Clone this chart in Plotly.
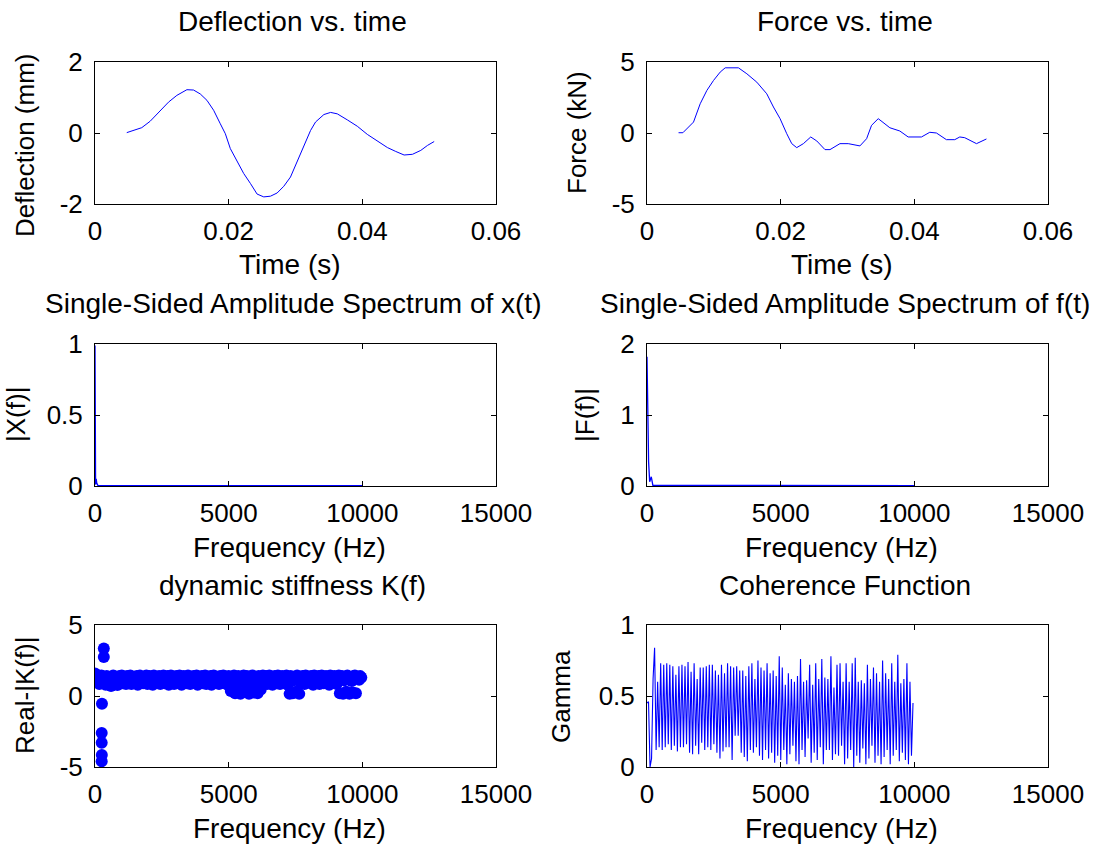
import numpy as np
import plotly.graph_objects as go

# ---------------- data ----------------
defl_t = [0.00475, 0.00575, 0.0070, 0.00825, 0.00975, 0.0110, 0.01225, 0.01375, 0.01475, 0.01575,
          0.01675, 0.01775, 0.01875, 0.0195, 0.02025, 0.02125, 0.02225, 0.02325, 0.02425, 0.02525,
          0.02625, 0.02725, 0.02825, 0.02925, 0.0300, 0.03075, 0.0315, 0.03225, 0.0330, 0.03425,
          0.03525, 0.03625, 0.03775, 0.03925, 0.04075, 0.04225, 0.04375, 0.0450, 0.04625, 0.0475,
          0.04875, 0.04975, 0.05075]
defl_mm = [0.01, 0.065, 0.15, 0.33, 0.61, 0.87, 1.06, 1.22, 1.21, 1.10,
           0.92, 0.64, 0.26, -0.02, -0.44, -0.77, -1.14, -1.42, -1.72, -1.80,
           -1.78, -1.69, -1.50, -1.24, -0.91, -0.58, -0.21, 0.07, 0.31, 0.52,
           0.58, 0.54, 0.37, 0.19, -0.04, -0.22, -0.41, -0.52, -0.62, -0.60,
           -0.49, -0.35, -0.24]

force_t = [0.00472, 0.00537, 0.00696, 0.00796, 0.00896, 0.00995, 0.01095, 0.0117, 0.01368, 0.01494,
           0.01643, 0.01792, 0.01892, 0.01991, 0.02091, 0.02166, 0.0224, 0.0234, 0.0245, 0.0254,
           0.02663, 0.02738, 0.02887, 0.03011, 0.03186, 0.03286, 0.0336, 0.0346, 0.03634, 0.03783,
           0.03908, 0.04107, 0.04231, 0.04331, 0.0448, 0.04605, 0.0468, 0.04754, 0.0493, 0.05079]
force_kn = [0.02, 0.02, 0.77, 2.06, 3.0, 3.7, 4.29, 4.59, 4.59, 4.17,
            3.58, 2.76, 1.83, 1.01, -0.05, -0.75, -1.03, -0.75, -0.28, -0.56,
            -1.17, -1.17, -0.75, -0.75, -0.91, -0.40, 0.54, 1.01, 0.37, 0.14,
            -0.28, -0.28, 0.05, 0.0, -0.47, -0.47, -0.28, -0.33, -0.75, -0.42]

X_freq = [0, 22, 44, 66, 88, 110, 10000]
X_amp = [0.99, 0.01, 0.05, 0.02, 0.005, 0.003, 0.002]

F_freq = [0, 60, 100, 160, 220, 10000]
F_amp = [1.82, 0.34, 0.06, 0.13, 0.01, 0.005]

K_band = [1.58, 1.50, 1.30, 1.10, 0.85, 1.20, 1.45, 0.95, 1.30, 1.05,
          0.80, 1.40, 1.15, 1.00, 1.30, 0.70, 1.25, 1.45, 0.95, 1.10,
          1.35, 0.78, 1.20, 1.40, 1.05, 1.45, 0.90, 1.30, 1.15, 0.85,
          1.40, 1.20, 1.00, 1.45, 0.85, 1.25, 1.35, 0.95, 1.10, 1.40,
          0.80, 1.30, 1.45, 1.05, 1.20, 0.90, 1.35, 1.15, 1.45, 0.85,
          1.25, 1.40, 1.00, 1.30, 0.80, 1.45, 1.10, 1.20, 0.95, 1.35,
          1.40, 0.85, 1.25, 1.05, 1.45, 0.90, 1.30, 1.15, 1.40, 0.80,
          1.20, 1.45, 1.00, 1.35, 0.85, 1.10, 1.40, 1.25, 0.95, 1.45,
          1.15, 0.80, 1.30, 1.40, 1.05, 1.20, 0.90, 1.45, 1.35, 0.85,
          1.25, 1.10, 1.40, 0.95, 1.30, 1.45, 0.80, 1.20, 1.05, 1.35,
          1.40, 0.90, 1.15, 1.45, 0.85, 1.30, 1.25, 1.00, 1.40, 0.80,
          1.20, 1.45, 1.10, 0.95, 1.35, 1.30, 0.85, 1.40, 1.05, 1.25,
          1.45, 0.90, 1.15, 1.35, 0.80, 1.40, 1.20, 0.35, 1.30, 1.05,
          1.45, 0.20, 1.25, 0.90, 1.40, 1.15, 0.15, 1.35, 1.00, 1.45,
          0.30, 1.20, 1.40, 0.85, 0.15, 1.30, 1.10, 1.45, 0.25, 0.95,
          1.35, 1.20, 0.20, 1.40, 1.05, 0.45, 1.30, 1.45, 0.90, 1.15,
          1.40, 0.85, 1.25, 1.45, 1.00, 1.30, 0.80, 1.20, 1.40, 1.10,
          0.90, 1.45, 1.35, 0.85, 1.15, 1.40, 1.25, 0.95, 1.30, 1.45,
          0.80, 1.20, 0.15, 1.40, 1.05, 0.20, 1.35, 1.25, 0.30, 1.45,
          1.10, 0.15, 1.30, 0.90, 1.40, 1.20, 0.85, 1.45, 1.05, 1.35,
          1.25, 0.95, 1.40, 1.15, 0.80, 1.45, 1.30, 1.00, 1.20, 1.40,
          0.85, 1.35, 1.45, 1.10, 0.90, 1.25, 1.40, 1.05, 1.30, 0.80,
          1.45, 1.20, 0.95, 1.35, 1.40, 1.15, 0.85, 1.30, 1.45, 0.20,
          1.25, 1.40, 0.15, 1.10, 1.35, 0.30, 1.45, 1.20, 0.15, 1.30,
          1.05, 0.25, 1.40, 1.45, 0.20, 1.25, 1.35, 1.15, 1.40, 1.30]
K_band_fmax = 9960
K_out_freq = [330, 330, 260, 250, 250, 255, 250]
K_out = [3.35, 2.75, -0.55, -2.6, -3.3, -4.15, -4.6]

gamma = [0.45, 0.46, 0.00, 0.06, 0.62, 0.84, 0.12, 0.60, 0.14, 0.73,
         0.12, 0.72, 0.14, 0.73, 0.16, 0.72, 0.12, 0.71, 0.15, 0.65,
         0.11, 0.71, 0.14, 0.72, 0.14, 0.71, 0.16, 0.74, 0.10, 0.67,
         0.09, 0.73, 0.15, 0.62, 0.09, 0.70, 0.17, 0.70, 0.12, 0.71,
         0.14, 0.72, 0.12, 0.72, 0.16, 0.68, 0.10, 0.65, 0.06, 0.72,
         0.11, 0.66, 0.14, 0.73, 0.14, 0.71, 0.05, 0.70, 0.22,
         0.71, 0.22, 0.68, 0.10, 0.68, 0.07, 0.64, 0.04, 0.71, 0.12,
         0.73, 0.10, 0.62, 0.14, 0.75, 0.08, 0.70, 0.05, 0.68, 0.12,
         0.73, 0.06, 0.66, 0.10, 0.68, 0.03, 0.64, 0.08, 0.78, 0.05,
         0.70, 0.12, 0.58, 0.02, 0.66, 0.09, 0.62, 0.15, 0.60, 0.04,
         0.64, 0.02, 0.76, 0.12, 0.60, 0.07, 0.61, 0.20, 0.72, 0.03,
         0.58, 0.10, 0.73, 0.05, 0.62, 0.14, 0.76, 0.02, 0.63, 0.12,
         0.62, 0.12, 0.78, 0.05, 0.56, 0.09, 0.72, 0.08, 0.73, 0.15,
         0.60, 0.02, 0.73, 0.06, 0.60, 0.12, 0.73, 0.00, 0.77, 0.08,
         0.60, 0.03, 0.61, 0.13, 0.59, 0.02, 0.72, 0.06, 0.62, 0.15,
         0.70, 0.03, 0.66, 0.08, 0.60, 0.02, 0.75, 0.07, 0.66, 0.12,
         0.62, 0.02, 0.73, 0.08, 0.60, 0.12, 0.79, 0.04, 0.59, 0.10,
         0.62, 0.05, 0.73, 0.02, 0.60, 0.08, 0.45]
gamma_fmax = 9950

time_ticks = [0, 0.02, 0.04, 0.06]
time_ticktext = ["0", "0.02", "0.04", "0.06"]
freq_ticks = [0, 5000, 10000, 15000]
freq_ticktext = ["0", "5000", "10000", "15000"]

titles = ["Deflection vs. time", "Force vs. time",
          "Single-Sided Amplitude Spectrum of x(t)", "Single-Sided Amplitude Spectrum of f(t)",
          "dynamic stiffness K(f)", "Coherence Function"]
xlabels = ["Time (s)", "Time (s)", "Frequency (Hz)", "Frequency (Hz)", "Frequency (Hz)", "Frequency (Hz)"]
ylabels = ["Deflection (mm)", "Force (kN)", "|X(f)|", "|F(f)|", "Real-|K(f)|", "Gamma"]

# ---------------- layout geometry ----------------
W, H = 1105, 844
FONT = "Liberation Sans, Arial, sans-serif"
FS = 26      # tick labels and vertical labels
FS_H = 28    # horizontal titles / x labels
BLUE = "#0000FF"

col_px = [(95, 496), (647, 1048)]
row_px = [(62, 204), (344, 486), (625, 767)]

def xd(a, b):
    return [a / W, b / W]

def yd(top, bot):
    return [1 - bot / H, 1 - top / H]

fig = go.Figure()

K_freq = np.linspace(0, K_band_fmax, len(K_band))
g_freq = np.linspace(0, gamma_fmax, len(gamma))

traces = [
    (1, go.Scatter(x=defl_t, y=defl_mm, mode="lines", line=dict(color=BLUE, width=1))),
    (2, go.Scatter(x=force_t, y=force_kn, mode="lines", line=dict(color=BLUE, width=1))),
    (3, go.Scatter(x=X_freq, y=X_amp, mode="lines", line=dict(color=BLUE, width=1.3))),
    (4, go.Scatter(x=F_freq, y=F_amp, mode="lines", line=dict(color=BLUE, width=1.3))),
    (5, go.Scatter(x=K_freq, y=K_band, mode="markers", marker=dict(color=BLUE, size=12, line=dict(width=0)))),
    (5, go.Scatter(x=K_out_freq, y=K_out, mode="markers", marker=dict(color=BLUE, size=12, line=dict(width=0)))),
    (6, go.Scatter(x=g_freq, y=gamma, mode="lines", line=dict(color=BLUE, width=1.1))),
]
for n, tr in traces:
    tr.update(xaxis="x" if n == 1 else f"x{n}", yaxis="y" if n == 1 else f"y{n}", showlegend=False)
    fig.add_trace(tr)

ycfg = [
    ([-2, 2], [-2, 0, 2], ["-2", "0", "2"]),
    ([-5, 5], [-5, 0, 5], ["-5", "0", "5"]),
    ([0, 1], [0, 0.5, 1], ["0", "0.5", "1"]),
    ([0, 2], [0, 1, 2], ["0", "1", "2"]),
    ([-5, 5], [-5, 0, 5], ["-5", "0", "5"]),
    ([0, 1], [0, 0.5, 1], ["0", "0.5", "1"]),
]

common = dict(showline=True, linecolor="black", linewidth=1, mirror="ticks",
              ticks="inside", ticklen=5, tickcolor="black", tickwidth=1,
              showgrid=False, zeroline=False, automargin=False,
              tickfont=dict(family=FONT, size=FS, color="black"))

layout = {}
annotations = []
for i in range(6):
    r, c = divmod(i, 2)
    n = i + 1
    xk = "xaxis" if n == 1 else f"xaxis{n}"
    yk = "yaxis" if n == 1 else f"yaxis{n}"
    xa = "x" if n == 1 else f"x{n}"
    ya = "y" if n == 1 else f"y{n}"
    if r == 0:
        xr, xt, xtt = [0, 0.06], time_ticks, time_ticktext
    else:
        xr, xt, xtt = [0, 15000], freq_ticks, freq_ticktext
    layout[xk] = dict(common, domain=xd(*col_px[c]), range=xr, tickvals=xt, ticktext=xtt,
                      anchor=ya, ticklabelstandoff=4)
    yr, yt, ytt = ycfg[i]
    layout[yk] = dict(common, domain=yd(*row_px[r]), range=yr, tickvals=yt, ticktext=ytt,
                      anchor=xa, ticklabelstandoff=6)
    cx = (col_px[c][0] + col_px[c][1]) / 2
    top, bot = row_px[r]
    annotations.append(dict(text=titles[i], x=(cx - 3) / W, y=1 - (top - 40) / H, xref="paper", yref="paper",
                            xanchor="center", yanchor="middle", showarrow=False,
                            font=dict(family=FONT, size=FS_H, color="black")))
    annotations.append(dict(text=xlabels[i], x=(cx - 6) / W, y=1 - (bot + 61) / H, xref="paper", yref="paper",
                            xanchor="center", yanchor="middle", showarrow=False,
                            font=dict(family=FONT, size=FS_H, color="black")))

ylab_pos = [(25, 146), (577, 133), (16, 415), (585, 415), (25, 695), (561, 697)]
for i, (px, py) in enumerate(ylab_pos):
    annotations.append(dict(text=ylabels[i], x=px / W, y=1 - py / H, xref="paper", yref="paper",
                            xanchor="center", yanchor="middle", textangle=-90, showarrow=False,
                            font=dict(family=FONT, size=FS, color="black")))

fig.update_layout(**layout)
fig.update_layout(annotations=annotations, width=W, height=H, template="none",
                  margin=dict(l=0, r=0, t=0, b=0),
                  paper_bgcolor="white", plot_bgcolor="white", showlegend=False)

fig.write_html("out.html")
